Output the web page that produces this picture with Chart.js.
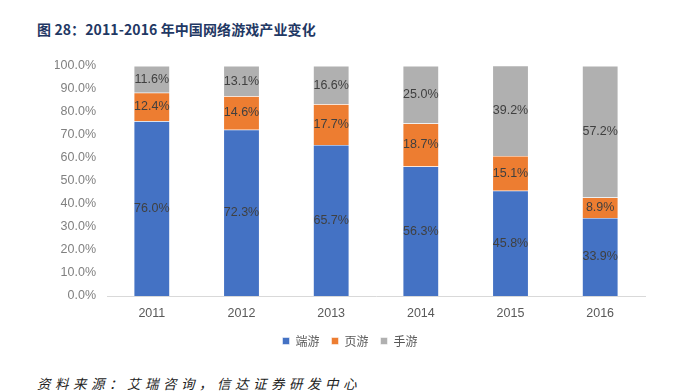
<!DOCTYPE html>
<html>
<head>
<meta charset="utf-8">
<script src="https://cdn.jsdelivr.net/npm/chart.js@4/dist/chart.umd.min.js"></script>
<style>
  html, body { margin: 0; padding: 0; background: #fff; }
  body { width: 682px; height: 392px; position: relative; overflow: hidden; font-family: 'Noto Sans CJK SC', 'Liberation Sans', sans-serif; }
  .title { position: absolute; left: 37px; top: 19px; font-size: 14px; font-weight: bold; color: #1F3864; white-space: nowrap; letter-spacing: 0.1px; }
  .source { position: absolute; left: 37px; top: 373px; font-size: 13.5px; font-style: italic; color: #222; white-space: nowrap; letter-spacing: 4.5px; }
  .wrap { position: absolute; left: 0; top: 50px; width: 682px; height: 307px; }
</style>
</head>
<body>
<div class="title">图 28：2011-2016 年中国网络游戏产业变化</div>
<div class="wrap"><canvas id="c"></canvas></div>
<div class="source">资料来源：艾瑞咨询，信达证券研发中心</div>
<script>
// categories and series (percent)
const years = ['2011', '2012', '2013', '2014', '2015', '2016'];
const seriesNames = ['端游', '页游', '手游'];
const clientGames = [76.0, 72.3, 65.7, 56.3, 45.8, 33.9];
const webGames = [12.4, 14.6, 17.7, 18.7, 15.1, 8.9];
const mobileGames = [11.6, 13.1, 16.6, 25.0, 39.2, 57.2];
const yTicks = [0, 10, 20, 30, 40, 50, 60, 70, 80, 90, 100];

const colors = ['#4472C4', '#ED7D31', '#B0B0B0'];

// labels in the middle of each segment
const segmentLabels = {
  id: 'segmentLabels',
  afterDatasetsDraw(chart) {
    const ctx = chart.ctx;
    ctx.save();
    ctx.font = "12.5px 'Liberation Sans', sans-serif";
    ctx.fillStyle = '#404040';
    ctx.textAlign = 'center';
    ctx.textBaseline = 'middle';
    chart.data.datasets.forEach((ds, i) => {
      chart.getDatasetMeta(i).data.forEach((bar, j) => {
        const y = (bar.y + bar.base) / 2;
        ctx.fillText(ds.data[j].toFixed(1) + '%', bar.x, y);
      });
    });
    ctx.restore();
  }
};

const tickFont = { family: "'Liberation Sans', sans-serif", size: 12.5 };

new Chart(document.getElementById('c'), {
  type: 'bar',
  data: {
    labels: years,
    datasets: [clientGames, webGames, mobileGames].map((d, i) => ({
      label: seriesNames[i],
      data: d,
      backgroundColor: colors[i],
      borderColor: '#ffffff',
      borderWidth: 0.5,
      barPercentage: 0.4,
      categoryPercentage: 1,
    })),
  },
  options: {
    responsive: true,
    maintainAspectRatio: false,
    animation: false,
    // left padding + y-axis width = 107, so the legend centres near x=350
    layout: { padding: { left: 55, right: 37, top: 16, bottom: 0 } },
    plugins: {
      legend: {
        position: 'bottom',
        labels: {
          boxWidth: 7,
          boxHeight: 7,
          padding: 12,
          color: '#595959',
          font: { family: "'Noto Sans CJK SC', sans-serif", size: 12 },
        },
      },
      tooltip: { enabled: false },
    },
    scales: {
      x: {
        stacked: true,
        grid: { display: false },
        border: { color: '#D9D9D9' },
        ticks: { color: '#595959', font: tickFont, padding: 2 },
      },
      y: {
        stacked: true,
        min: 0,
        max: 100,
        afterFit: s => { s.width = 52; },
        afterBuildTicks: s => { s.ticks = yTicks.map(v => ({ value: v })); },
        grid: { display: false },
        border: { display: false },
        ticks: {
          color: '#808080',
          font: tickFont,
          padding: 3,
          callback: v => v.toFixed(1) + '%',
        },
      },
    },
  },
  plugins: [segmentLabels],
});
</script>
</body>
</html>
